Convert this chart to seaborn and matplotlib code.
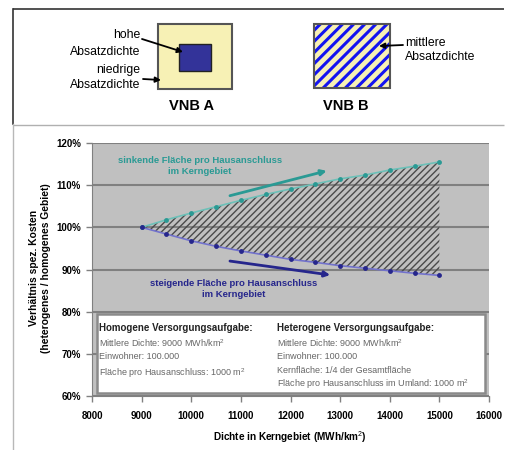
import numpy as np
import pandas as pd
import matplotlib
matplotlib.use('Agg')
import matplotlib.pyplot as plt
from matplotlib.patches import Rectangle
import seaborn as sns

# data
dichte = [9000, 9500, 10000, 10500, 11000, 11500, 12000, 12500, 13000, 13500, 14000, 14500, 15000]
sinkend = [100, 101.8, 103.4, 104.9, 106.4, 107.8, 109.1, 110.3, 111.5, 112.4, 113.6, 114.5, 115.5]
steigend = [100, 98.4, 96.8, 95.5, 94.4, 93.4, 92.4, 91.7, 90.9, 90.3, 89.7, 89.1, 88.6]
x_ticks = [8000, 9000, 10000, 11000, 12000, 13000, 14000, 15000, 16000]
y_ticks = [60, 70, 80, 90, 100, 110, 120]

homogen_title = 'Homogene Versorgungsaufgabe:'
homogen_lines = ['Mittlere Dichte: 9000 MWh/km$^2$', 'Einwohner: 100.000', 'Fläche pro Hausanschluss: 1000 m$^2$']
hetero_title = 'Heterogene Versorgungsaufgabe:'
hetero_lines = ['Mittlere Dichte: 9000 MWh/km$^2$', 'Einwohner: 100.000', 'Kernfläche: 1/4 der Gesamtfläche',
                'Fläche pro Hausanschluss im Umland: 1000 m$^2$']

df = pd.DataFrame({'dichte': dichte, 'sinkend': sinkend, 'steigend': steigend})

plt.rcParams['font.family'] = ['Liberation Sans', 'DejaVu Sans']
plt.rcParams['mathtext.fontset'] = 'custom'
plt.rcParams['mathtext.rm'] = 'Liberation Sans'

teal = '#2a9a94'
teal_line = '#6cc0b8'
navy = '#26268c'
navy_line = '#7272cc'

fig = plt.figure(figsize=(5.06, 4.5), dpi=100)

# ---- schematic / frame (pixel coords) ----
deco = fig.add_axes([0, 0, 1, 1], zorder=0)
deco.set_xlim(0, 506)
deco.set_ylim(450, 0)
deco.axis('off')
deco.plot([13, 504], [9, 9], color='#333333', lw=1.2, solid_capstyle='butt')
deco.plot([13, 13], [9, 124], color='#333333', lw=1.2)
deco.plot([13, 504], [124.5, 124.5], color='#b0b0b0', lw=1, solid_capstyle='butt')
deco.plot([13, 13], [124, 450], color='#b8b8b8', lw=1)

deco.add_patch(Rectangle((158, 24), 74, 65, fc='#f7f1b5', ec='#555555', lw=1.5))
deco.add_patch(Rectangle((179, 44), 32, 27, fc='#333399', ec='#222222', lw=1))
plt.rcParams['hatch.linewidth'] = 2.2
stripes = Rectangle((314, 24), 76, 64, fc='#f7f1b5', ec='#1414f0', lw=0, hatch='///')
if hasattr(stripes, 'set_hatch_linewidth'):
    stripes.set_hatch_linewidth(2.2)
deco.add_patch(stripes)
deco.add_patch(Rectangle((314, 24), 76, 64, fc='none', ec='#555555', lw=1.5))

sfs = 8.8
deco.text(140, 35, 'hohe', ha='right', va='center', fontsize=sfs)
deco.text(140, 52, 'Absatzdichte', ha='right', va='center', fontsize=sfs)
deco.text(140, 70, 'niedrige', ha='right', va='center', fontsize=sfs)
deco.text(140, 85, 'Absatzdichte', ha='right', va='center', fontsize=sfs)
deco.text(405, 43, 'mittlere', ha='left', va='center', fontsize=sfs)
deco.text(405, 57, 'Absatzdichte', ha='left', va='center', fontsize=sfs)
deco.text(192, 106, 'VNB A', ha='center', va='center', fontsize=10.5, fontweight='bold')
deco.text(346, 106, 'VNB B', ha='center', va='center', fontsize=10.5, fontweight='bold')

arr = dict(arrowstyle='-|>', color='black', lw=1.3, mutation_scale=8, shrinkA=0, shrinkB=0)
deco.annotate('', xy=(183, 52), xytext=(142, 39), arrowprops=arr)
deco.annotate('', xy=(161, 80), xytext=(143, 79), arrowprops=arr)
deco.annotate('', xy=(379, 46), xytext=(403, 45), arrowprops=arr)

# ---- main chart ----
ax = fig.add_axes([92 / 506, 1 - 396 / 450, 397 / 506, 253 / 450], zorder=1)
ax.set_facecolor('#c0c0c0')

plt.rcParams['hatch.linewidth'] = 1.0
fill = ax.fill_between(df['dichte'], df['steigend'], df['sinkend'], facecolor='none',
                       edgecolor='#4a4a4a', lw=0, hatch='/////', zorder=2)
if hasattr(fill, 'set_hatch_linewidth'):
    fill.set_hatch_linewidth(1.0)

sns.lineplot(data=df, x='dichte', y='sinkend', ax=ax, color=teal_line, lw=1.2, marker='o',
             markersize=3.5, markerfacecolor=teal, markeredgecolor=teal, markeredgewidth=0, zorder=4)
sns.lineplot(data=df, x='dichte', y='steigend', ax=ax, color=navy_line, lw=1.2, marker='o',
             markersize=3.5, markerfacecolor=navy, markeredgecolor=navy, markeredgewidth=0, zorder=4)

ax.set_xlim(8000, 16000)
ax.set_ylim(60, 120)
ax.set_xticks(x_ticks)
ax.set_yticks(y_ticks)
ax.set_xticklabels([str(v) for v in x_ticks], fontsize=7, fontweight='bold')
ax.set_yticklabels([f'{v}%' for v in y_ticks], fontsize=7, fontweight='bold')
ax.set_xlabel('')
ax.set_ylabel('')
ax.yaxis.grid(True, color='#808080', lw=1.5, zorder=1)
ax.set_axisbelow(True)
for s in ['top', 'right']:
    ax.spines[s].set_visible(False)
for s in ['left', 'bottom']:
    ax.spines[s].set_color('#808080')
ax.tick_params(axis='both', color='#808080', length=4, width=1)
ax.tick_params(axis='x', pad=7)
ax.tick_params(axis='y', pad=4)

ax.text(10180, 114.5, 'sinkende Fläche pro Hausanschluss\nim Kerngebiet', color=teal, ha='center',
        va='center', fontsize=6.8, fontweight='bold', linespacing=1.3, zorder=5)
ax.text(10850, 85.4, 'steigende Fläche pro Hausanschluss\nim Kerngebiet', color=navy, ha='center',
        va='center', fontsize=6.8, fontweight='bold', linespacing=1.3, zorder=5)
ax.annotate('', xy=(12730, 113.4), xytext=(10780, 107.5),
            arrowprops=dict(arrowstyle='-|>', color=teal, lw=2, mutation_scale=8, shrinkA=0, shrinkB=0), zorder=5)
ax.annotate('', xy=(12800, 88.7), xytext=(10780, 92.0),
            arrowprops=dict(arrowstyle='-|>', color=navy, lw=2, mutation_scale=8, shrinkA=0, shrinkB=0), zorder=5)

# info box
ax.add_patch(Rectangle((8100, 60.7), 7820, 18.8, fc='white', ec='#8a8a8a', lw=1.8, zorder=6))
ax.text(8140, 76.2, homogen_title, fontsize=7, fontweight='bold', color='#222222', va='center', zorder=7)
for yy, t in zip([72.6, 69.3, 65.4], homogen_lines):
    ax.text(8140, yy, t, fontsize=6.5, color='#666666', va='center', zorder=7)
ax.text(11730, 76.2, hetero_title, fontsize=7, fontweight='bold', color='#222222', va='center', zorder=7)
for yy, t in zip([72.6, 69.3, 66.1, 62.7], hetero_lines):
    ax.text(11730, yy, t, fontsize=6.5, color='#666666', va='center', zorder=7)

fig.text(40 / 506, 1 - 268 / 450, 'Verhältnis spez. Kosten\n(heterogenes / homogenes Gebiet)',
         rotation=90, ha='center', va='center', fontsize=7.4, fontweight='bold', linespacing=1.2)
fig.text(290 / 506, 1 - 437 / 450, 'Dichte in Kerngebiet (MWh/km$^2$)', ha='center', va='center',
         fontsize=7.2, fontweight='bold')

fig.savefig('out.png', dpi=100)
